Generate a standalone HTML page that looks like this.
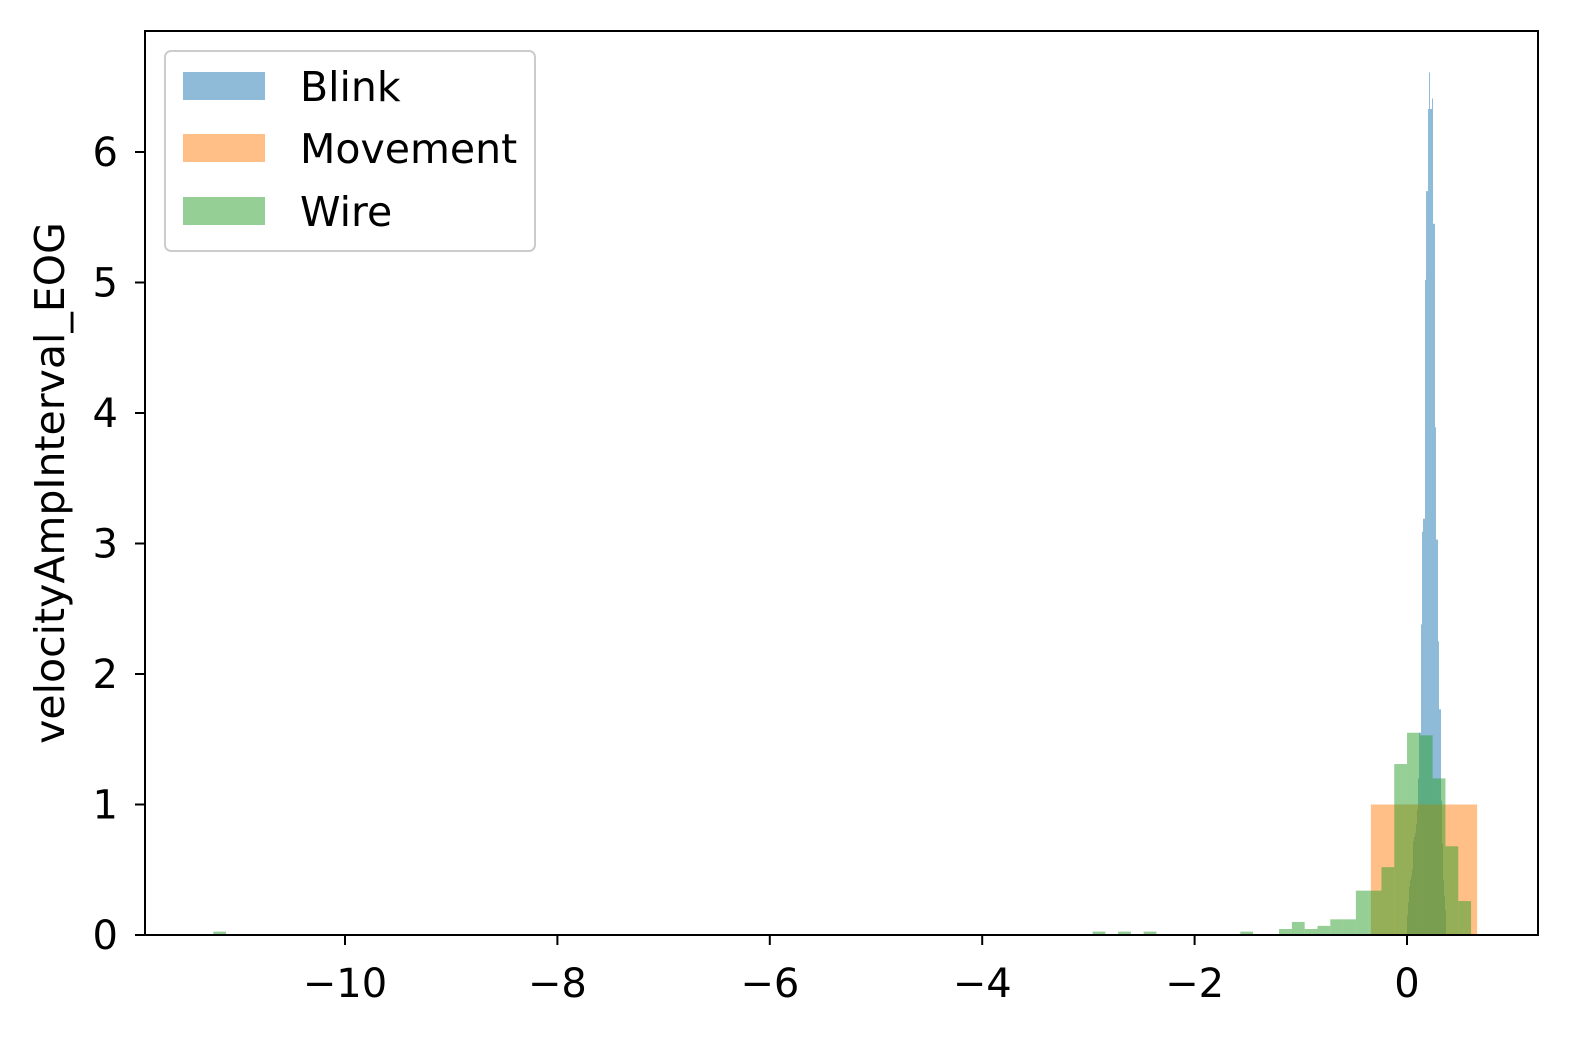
<!DOCTYPE html>
<html><head><meta charset="utf-8"><style>
html,body{margin:0;padding:0;background:#fff;}
svg{display:block;font-family:"DejaVu Sans","Liberation Sans",sans-serif;}
</style></head><body>
<svg id="chart" width="1570" height="1037" viewBox="0 0 1570 1037">
<g id="bars"></g>
<rect x="145" y="31" width="1393" height="904" fill="none" stroke="#000" stroke-width="2"/>
<g id="axes"></g>
<text transform="translate(64,483) rotate(-90)" text-anchor="middle" font-size="41">velocityAmpInterval_EOG</text>
<g>
<rect x="165" y="51" width="370" height="200" rx="6" fill="#fff" fill-opacity="0.8" stroke="#ccc" stroke-width="2"/>
<rect x="183" y="72" width="82" height="28" fill="#1f77b4" fill-opacity="0.5"/>
<text x="300" y="101" font-size="41">Blink</text>
<rect x="183" y="134" width="82" height="28" fill="#ff7f0e" fill-opacity="0.5"/>
<text x="300" y="163" font-size="41">Movement</text>
<rect x="183" y="197" width="82" height="28" fill="#2ca02c" fill-opacity="0.5"/>
<text x="300" y="226" font-size="41">Wire</text>
</g>
</svg>
<script>
const xTicks = [-10, -8, -6, -4, -2, 0];
const yTicks = [0, 1, 2, 3, 4, 5, 6];
const blinkStart = 0;
const blinkWidth = 0.00942;
const blinkHeights = [0.15,0.25,0.37,0.42,0.45,0.5,0.72,0.75,0.78,0.85,0.96,1.2,1.55,1.55,2.38,3.09,3.19,3.19,5.02,5.7,5.7,6.33,6.61,6.33,6.33,6.41,5.45,5.45,3.89,3.03,3.03,2.25,1.73,1.73,1.03,0.7,0.42,0.3,0.19];
const movementLefts = [-0.34];
const movementWidth = 1.0;
const movementHeights = [1.0];
const wireWidth = 0.1205;
const wireLefts = [-11.24,-2.96,-2.72,-2.48,-1.57,-1.2045,-1.084,-0.9635,-0.843,-0.7225,-0.602,-0.4815,-0.361,-0.2405,-0.12,0.0005,0.121,0.2415,0.362,0.4825];
const wireHeights = [0.026,0.026,0.026,0.026,0.026,0.046,0.1,0.046,0.07,0.12,0.12,0.34,0.34,0.52,1.31,1.55,1.53,1.2,0.68,0.26];

const X = v => 1407 + v * 106.2;
const Y = v => 935 - v * 130.5;
const NS = 'http://www.w3.org/2000/svg';
const bars = document.getElementById('bars');
const axes = document.getElementById('axes');
function bar(l, w, h, color, name) {
  const r = document.createElementNS(NS, 'rect');
  r.setAttribute('x', X(l));
  r.setAttribute('width', Math.max(X(l + w) - X(l), 0.5));
  r.setAttribute('y', Y(h));
  r.setAttribute('height', Y(0) - Y(h));
  r.setAttribute('fill', color);
  r.setAttribute('fill-opacity', '0.5');
  
  
  bars.appendChild(r);
}
blinkHeights.forEach((h, i) => bar(blinkStart + i * blinkWidth, blinkWidth, h, '#1f77b4', 'blink-bar'));
movementHeights.forEach((h, i) => bar(movementLefts[i], movementWidth, h, '#ff7f0e', 'movement-bar'));
wireHeights.forEach((h, i) => bar(wireLefts[i], wireWidth, h, '#2ca02c', 'wire-bar'));

xTicks.forEach(t => {
  const l = document.createElementNS(NS, 'line');
  l.setAttribute('x1', X(t)); l.setAttribute('x2', X(t));
  l.setAttribute('y1', 935); l.setAttribute('y2', 945);
  l.setAttribute('stroke', '#000'); l.setAttribute('stroke-width', '2');
  
  
  axes.appendChild(l);
  const tx = document.createElementNS(NS, 'text');
  tx.setAttribute('x', X(t)); tx.setAttribute('y', 997);
  tx.setAttribute('text-anchor', 'middle'); tx.setAttribute('font-size', '40');
  tx.textContent = (t < 0 ? '\u2212' + Math.abs(t) : String(t));
  
  
  axes.appendChild(tx);
});
yTicks.forEach(t => {
  const l = document.createElementNS(NS, 'line');
  l.setAttribute('x1', 135); l.setAttribute('x2', 145);
  l.setAttribute('y1', Y(t)); l.setAttribute('y2', Y(t));
  l.setAttribute('stroke', '#000'); l.setAttribute('stroke-width', '2');
  
  
  axes.appendChild(l);
  const tx = document.createElementNS(NS, 'text');
  tx.setAttribute('x', 118); tx.setAttribute('y', Y(t) + 14);
  tx.setAttribute('text-anchor', 'end'); tx.setAttribute('font-size', '40');
  tx.textContent = String(t);
  
  
  axes.appendChild(tx);
});
</script>
</body></html>
